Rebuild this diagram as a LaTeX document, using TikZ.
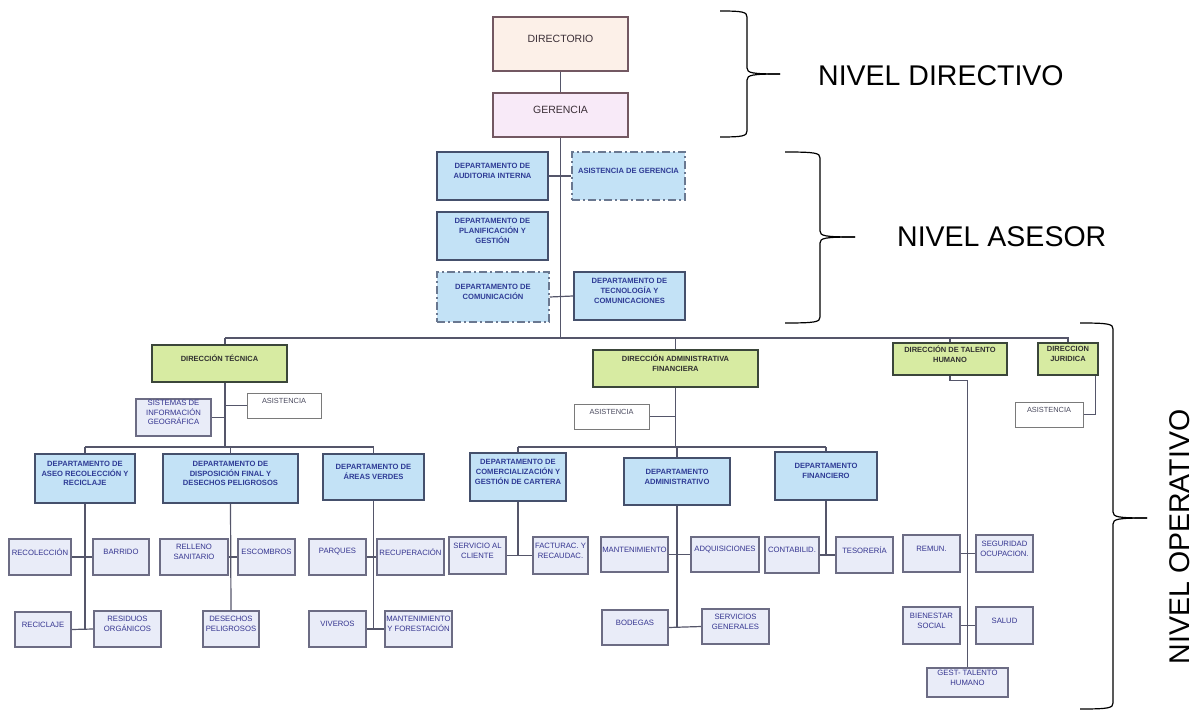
\documentclass[tikz,border=0pt]{standalone}
\usepackage{fontspec}
\setmainfont{Liberation Sans}
\definecolor{linec}{HTML}{55566A}
\definecolor{dirb}{HTML}{735862}
\definecolor{dirf}{HTML}{FCF0E8}
\definecolor{gerf}{HTML}{F8EAF8}
\definecolor{dirt}{HTML}{3A2E36}
\definecolor{blueb}{HTML}{45506C}
\definecolor{bluef}{HTML}{C3E2F6}
\definecolor{dashb}{HTML}{6A7890}
\definecolor{bluet}{HTML}{2F3C96}
\definecolor{greenb}{HTML}{3B463A}
\definecolor{greenf}{HTML}{D7EBA2}
\definecolor{greent}{HTML}{303030}
\definecolor{childb}{HTML}{6C6C84}
\definecolor{childf}{HTML}{E9ECF8}
\definecolor{childt}{HTML}{353590}
\definecolor{whb}{HTML}{7A7A7A}
\definecolor{wht}{HTML}{4A4A5E}
\pgfdeclarelayer{bg}
\pgfsetlayers{bg,main}
\tikzset{
 con/.style={draw=linec, line width=1.2pt},
 brc/.style={draw=black, line width=1.2pt},
 pbox/.style={draw=dirb, line width=1.8pt, fill=dirf},
 lbox/.style={draw=dirb, line width=1.8pt, fill=gerf},
 bbox/.style={draw=blueb, line width=2pt, fill=bluef},
 dbox/.style={draw=dashb, line width=1.5pt, fill=bluef, dash pattern=on 8pt off 3pt on 2pt off 3pt},
 gbox/.style={draw=greenb, line width=2.3pt, fill=greenf},
 cbox/.style={draw=childb, line width=1.1pt, fill=childf},
 wbox/.style={draw=whb, line width=0.8pt, fill=white},
 basetxt/.style={align=center, inner sep=0pt},
 pboxtxt/.style={basetxt, font=\fontsize{10.5}{12}\selectfont, text=dirt},
 lboxtxt/.style={basetxt, font=\fontsize{10.5}{12}\selectfont, text=dirt},
 bboxtxt/.style={basetxt, font=\fontsize{7.6}{9.8}\selectfont\bfseries, text=bluet},
 dboxtxt/.style={basetxt, font=\fontsize{7.6}{9.8}\selectfont\bfseries, text=bluet},
 gboxtxt/.style={basetxt, font=\fontsize{7.5}{9.8}\selectfont\bfseries, text=greent},
 cboxtxt/.style={basetxt, font=\fontsize{7.7}{9.8}\selectfont, text=childt},
 wboxtxt/.style={basetxt, font=\fontsize{7.4}{9}\selectfont, text=wht},
 lvl/.style={inner sep=0pt, font=\fontsize{28.5}{30}\selectfont, text=black},
}
\newcommand\bx[7]{%
 \node[#6, minimum width={(#4-#2)*1pt}, minimum height={(#5-#3)*1pt}, inner sep=0pt] (#1) at ({(#2+#4)/2},{(#3+#5)/2}) {};
 \node[#6txt] (#1-t) at ([yshift=5pt]#1.center) {#7};}
\newcommand\lvlbrace[6]{%
 \draw[brc] (#1,#3) .. controls ({#2-4},#3) and (#2,{#3+1}) .. (#2,{#3+6}) -- (#2,{#4-6}) .. controls (#2,{#4-1}) and ({#2+5},#4) .. (#6,#4);
 \draw[brc] (#6,#4) .. controls ({#2+5},#4) and (#2,{#4+1}) .. (#2,{#4+6}) -- (#2,{#5-6}) .. controls (#2,{#5-1}) and ({#2-4},#5) .. (#1,#5);}
\begin{document}
\begin{tikzpicture}[x=1pt, y=-1pt]
\begin{pgfonlayer}{bg}
\useasboundingbox[fill=white] (0,0) rectangle (1201,711);
\end{pgfonlayer}
% ---- nivel directivo / asesor
\bx{dir}{493}{17}{628}{71}{pbox}{DIRECTORIO}
\bx{ger}{493}{93}{628}{137}{lbox}{GERENCIA}
\bx{aud}{437}{152}{548}{200}{bbox}{DEPARTAMENTO DE\\AUDITORIA INTERNA}
\bx{asg}{572}{152}{685}{200}{dbox}{ASISTENCIA DE GERENCIA}
\bx{pla}{437}{212}{548}{260}{bbox}{DEPARTAMENTO DE\\PLANIFICACIÓN Y\\GESTIÓN}
\bx{com}{437}{272}{549}{322}{dbox}{DEPARTAMENTO DE\\COMUNICACIÓN}
\bx{tec}{574}{272}{685}{320}{bbox}{DEPARTAMENTO DE\\TECNOLOGÍA Y\\COMUNICACIONES}
% ---- direcciones
\bx{dt}{152}{345}{287}{382}{gbox}{DIRECCIÓN TÉCNICA}
\bx{daf}{593}{350}{758}{387}{gbox}{DIRECCIÓN ADMINISTRATIVA\\FINANCIERA}
\bx{dth}{893}{343}{1007}{375}{gbox}{DIRECCIÓN DE TALENTO\\HUMANO}
\bx{dj}{1038}{343}{1098}{375}{gbox}{DIRECCION\\JURIDICA}
% ---- tecnica
\bx{ast}{247}{393}{321}{418}{wbox}{ASISTENCIA}
\bx{sig}{136}{399}{211}{436}{cbox}{SISTEMAS DE\\INFORMACIÓN\\GEOGRÁFICA}
\bx{dase}{35}{454}{135}{503}{bbox}{DEPARTAMENTO DE\\ASEO RECOLECCIÓN Y\\RECICLAJE}
\bx{ddis}{163}{454}{298}{503}{bbox}{DEPARTAMENTO DE\\DISPOSICIÓN FINAL Y\\DESECHOS PELIGROSOS}
\bx{dave}{323}{454}{424}{500}{bbox}{DEPARTAMENTO DE\\ÁREAS VERDES}
\bx{recol}{9}{539}{71}{575}{cbox}{RECOLECCIÓN}
\bx{barr}{93}{539}{149}{575}{cbox}{BARRIDO}
\bx{recic}{15}{612}{71}{647}{cbox}{RECICLAJE}
\bx{resid}{94}{611}{161}{647}{cbox}{RESIDUOS\\ORGÁNICOS}
\bx{rell}{160}{539}{228}{575}{cbox}{RELLENO\\SANITARIO}
\bx{esc}{238}{539}{295}{575}{cbox}{ESCOMBROS}
\bx{desp}{203}{611}{259}{647}{cbox}{DESECHOS\\PELIGROSOS}
\bx{parq}{309}{539}{366}{575}{cbox}{PARQUES}
\bx{recu}{377}{539}{444}{575}{cbox}{RECUPERACIÓN}
\bx{viv}{309}{611}{366}{647}{cbox}{VIVEROS}
\bx{mantf}{385}{611}{452}{647}{cbox}{MANTENIMIENTO\\Y FORESTACIÓN}
% ---- administrativa financiera
\bx{asa}{574}{404}{649}{429}{wbox}{ASISTENCIA}
\bx{dcom}{470}{453}{566}{501}{bbox}{DEPARTAMENTO DE\\COMERCIALIZACIÓN Y\\GESTIÓN DE CARTERA}
\bx{dadm}{624}{458}{730}{505}{bbox}{DEPARTAMENTO\\ADMINISTRATIVO}
\bx{dfin}{775}{452}{877}{500}{bbox}{DEPARTAMENTO\\FINANCIERO}
\bx{serv}{449}{537}{506}{574}{cbox}{SERVICIO AL\\CLIENTE}
\bx{fact}{533}{537}{588}{574}{cbox}{FACTURAC. Y\\RECAUDAC.}
\bx{mant}{601}{537}{668}{572}{cbox}{MANTENIMIENTO}
\bx{adq}{691}{537}{759}{572}{cbox}{ADQUISICIONES}
\bx{bod}{602}{610}{668}{645}{cbox}{BODEGAS}
\bx{sg}{702}{609}{769}{644}{cbox}{SERVICIOS\\GENERALES}
\bx{cont}{765}{537}{819}{573}{cbox}{CONTABILID.}
\bx{tes}{836}{537}{893}{573}{cbox}{TESORERÍA}
% ---- talento humano / juridica
\bx{asj}{1015}{402}{1083}{427}{wbox}{ASISTENCIA}
\bx{rem}{903}{535}{960}{572}{cbox}{REMUN.}
\bx{seg}{976}{535}{1033}{572}{cbox}{SEGURIDAD\\OCUPACION.}
\bx{bien}{903}{607}{960}{644}{cbox}{BIENESTAR\\SOCIAL}
\bx{sal}{976}{607}{1033}{644}{cbox}{SALUD}
\bx{gest}{927}{668}{1008}{697}{cbox}{GEST- TALENTO\\HUMANO}
% ---- bus coordinates
\coordinate (barl) at (225,338);
\coordinate (t1) at (225,447);
\coordinate (a1) at (677,447);
% ---- connectors (behind the boxes)
\begin{pgfonlayer}{bg}
\draw[con] (dir.south) -- (ger.north);
\draw[con] (ger.south) -- (ger.south |- barl);
\draw[con] (aud.east) -- (aud.east -| ger.south);
\draw[con] (asg.west) -- (asg.west -| ger.south);
\draw[con] (com.east) -- (tec.west);
\draw[con] (barl) -- (barl -| dj.north) -- (dj.north);
\draw[con] (barl) -- (barl |- dt.north);
\draw[con] (daf.north |- barl) -- (daf.north);
\draw[con] (dth.north |- barl) -- (dth.north);
% tecnica
\draw[con] (barl |- dt.south) -- (t1);
\draw[con] (ast.west) -- (ast.west -| t1);
\draw[con] (sig.east) -- (sig.east -| t1);
\draw[con] (dase.north |- t1) -- (dave.north |- t1);
\draw[con] (dase.north |- t1) -- (dase.north);
\draw[con] (ddis.north |- t1) -- (ddis.north);
\draw[con] (dave.north |- t1) -- (dave.north);
\draw[con] (dase.south) -- (dase.south |- recic.east);
\draw[con] (recol.east) -- (barr.west);
\draw[con] (recic.east) -- (resid.west);
\draw[con] (ddis.south) -- (desp.north);
\draw[con] (rell.east) -- (esc.west);
\draw[con] (dave.south) -- (dave.south |- viv.east);
\draw[con] (parq.east) -- (recu.west);
\draw[con] (viv.east) -- (mantf.west);
% administrativa financiera
\draw[con] (daf.south) -- (daf.south |- a1);
\draw[con] (asa.east) -- (asa.east -| daf.south);
\draw[con] (dcom.north |- a1) -- (dfin.north |- a1);
\draw[con] (dcom.north |- a1) -- (dcom.north);
\draw[con] (dadm.north |- a1) -- (dadm.north);
\draw[con] (dfin.north |- a1) -- (dfin.north);
\draw[con] (dcom.south) -- (dcom.south |- serv.east);
\draw[con] (serv.east) -- (fact.west);
\draw[con] (dadm.south) -- (dadm.south |- bod.east);
\draw[con] (mant.east) -- (adq.west);
\draw[con] (bod.east) -- (sg.west);
\draw[con] (dfin.south) -- (dfin.south |- cont.east);
\draw[con] (cont.east) -- (tes.west);
% talento humano / juridica
\draw[con] (dth.south) -- ++(0,4) -| (gest.north);
\draw[con] (rem.east) -- (seg.west);
\draw[con] (bien.east) -- (sal.west);
\draw[con] ([xshift=-4pt]dj.south east) |- (asj.east);
\end{pgfonlayer}
% ---- level braces and labels
\lvlbrace{720}{747}{11}{74}{137}{780}
\lvlbrace{785}{820}{152}{237}{323}{855}
\lvlbrace{1080}{1113}{323}{518}{709}{1147}
\node[lvl, anchor=west] (nd) at (818,76) {NIVEL DIRECTIVO};
\node[lvl, anchor=west] (na) at (897,237) {NIVEL ASESOR};
\node[lvl, rotate=90] (no) at (1180,537) {NIVEL OPERATIVO};
\end{tikzpicture}
\end{document}
